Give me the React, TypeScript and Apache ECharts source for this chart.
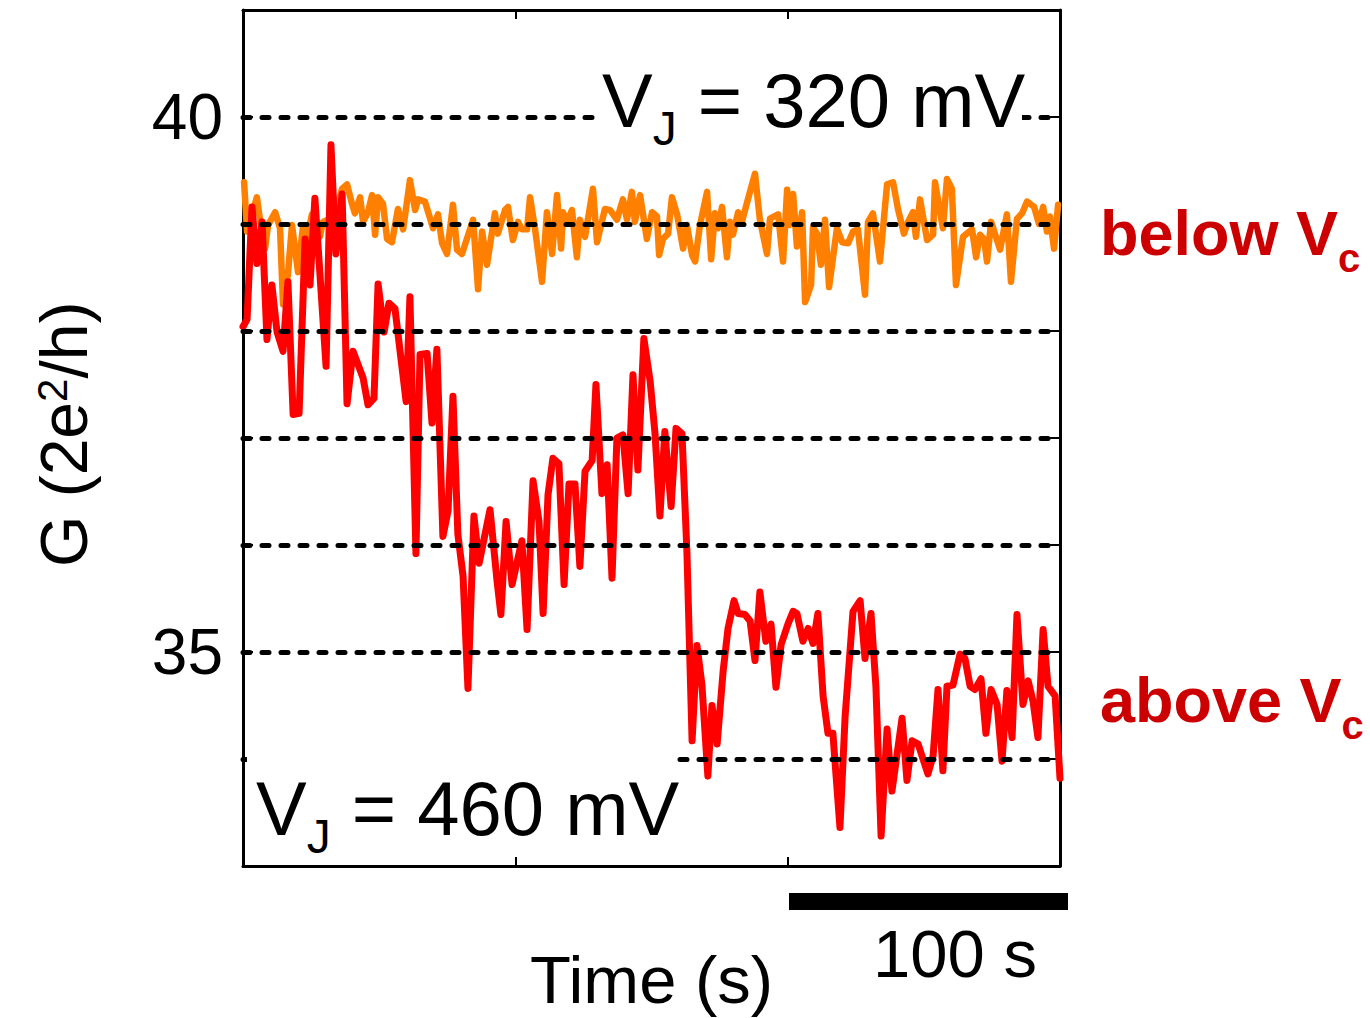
import React, { useEffect, useRef } from "react";
import * as echarts from "echarts";

// ---------- data ----------
const orangeTime = [0.4,1.5,5.1,6.2,8.1,9.2,11.8,13.6,14.7,16.5,18.0,20.2,22.0,23.5,25.3,28.2,29.4,31.9,34.5,36.4,38.2,40.0,41.1,43.0,44.1,45.9,47.4,48.5,49.6,51.4,52.9,54.7,56.9,58.8,61.3,63.2,64.3,66.8,69.8,71.6,73.1,74.9,77.1,78.6,80.4,84.5,86.3,87.8,89.6,92.5,93.6,96.2,97.3,99.1,101.0,102.4,104.3,105.4,107.2,109.8,111.6,113.5,115.3,116.8,117.5,119.0,120.8,122.6,123.7,125.6,128.5,130.0,132.9,134.8,137.3,139.5,141.0,142.8,143.9,145.8,148.3,150.2,152.0,152.8,154.2,156.1,157.5,159.4,161.6,163.0,164.9,166.0,167.8,170.4,171.9,173.3,174.4,175.9,177.7,178.8,179.9,181.8,183.2,185.4,188.0,189.8,192.4,193.5,196.5,198.3,199.8,200.5,202.0,203.4,205.3,206.4,208.6,209.3,210.8,212.2,213.7,215.2,218.1,220.0,222.2,224.0,225.8,228.4,229.5,231.3,233.9,236.5,238.7,240.5,242.7,244.2,246.0,247.1,248.6,251.2,253.4,254.1,257.0,258.5,260.3,261.8,264.4,267.7,269.2,270.6,272.1,273.2,274.7,278.0,280.5,282.0,284.2,286.1,287.9,290.5,292.3,293.8,295.2,296.3,297.8,299.3];
const orangeG = [39.39,38.93,39.25,39.05,38.77,38.99,39.11,38.96,38.25,38.53,38.99,38.55,38.97,38.86,39.09,38.88,39.02,39.05,39.16,39.33,39.37,39.19,39.10,39.25,39.02,39.11,39.27,38.90,39.25,39.19,38.86,38.83,39.14,38.95,39.41,39.13,39.23,39.21,38.96,39.09,38.82,38.72,39.18,38.76,38.72,39.04,38.39,38.93,38.62,39.10,38.91,39.13,39.16,38.85,39.02,38.95,38.95,39.25,38.96,38.46,39.11,38.72,39.27,38.77,39.11,39.02,39.13,38.69,39.04,38.88,39.33,38.83,39.14,39.13,39.04,39.23,39.04,39.30,39.02,39.27,38.86,39.11,39.07,38.71,38.86,38.91,39.25,39.09,38.77,38.99,38.71,38.65,38.99,39.30,38.67,39.10,38.96,39.16,38.69,39.02,38.90,39.11,39.02,39.23,39.47,39.04,38.72,39.05,39.09,38.65,39.32,38.99,39.28,38.79,39.11,38.27,38.43,38.97,38.91,38.62,39.04,38.41,38.96,38.83,38.82,38.93,38.95,38.34,39.02,39.10,38.65,39.37,39.39,39.14,38.91,39.02,39.11,38.88,39.23,38.85,38.90,39.39,38.96,39.42,39.33,38.43,38.88,38.95,38.69,38.90,38.86,38.65,39.02,38.76,39.09,38.46,39.05,39.10,39.21,39.16,39.00,39.16,38.93,39.07,38.77,39.18];

const redTime = [0,1.5,3.3,5.1,7.0,8.8,10.6,12.5,14.7,16.5,18.4,20.6,22.8,24.6,26.4,30.5,32.3,34.1,36.4,38.2,40.4,44.1,45.9,48.1,49.6,51.8,53.6,55.8,59.9,61.3,63.5,65.0,67.6,69.4,71.2,73.4,75.3,77.1,78.9,80.8,82.6,84.8,86.7,90.7,93.3,94.7,96.6,98.8,102.4,104.3,106.5,108.7,110.2,112.0,113.8,116.0,117.9,119.7,121.9,123.7,125.6,128.2,129.6,131.8,133.7,135.5,137.3,139.5,141.4,143.2,145.0,147.2,149.5,151.3,153.1,154.9,157.2,159.0,161.2,163.0,164.9,166.7,168.5,170.7,172.2,174.1,176.3,178.1,180.3,181.8,184.3,186.2,188.0,189.8,192.0,193.9,195.7,197.6,200.1,202.0,203.4,205.6,207.5,209.3,211.1,213.0,214.8,216.6,219.2,221.1,224.0,226.6,228.4,230.6,232.4,234.3,236.5,238.3,242.0,243.8,245.7,247.9,251.5,253.4,255.2,257.0,258.5,260.7,263.3,265.1,267.0,268.8,271.0,272.8,274.7,276.9,278.7,280.5,282.4,284.2,286.4,288.3,290.1,291.9,293.8,295.6,298.2,300.0];
const redG = [38.04,38.11,39.16,38.63,39.02,37.92,38.43,37.99,37.81,38.46,37.22,37.23,38.86,38.43,39.24,37.67,39.74,38.72,39.28,37.32,37.81,37.56,37.31,37.37,38.44,37.99,38.26,38.21,37.34,38.32,35.92,37.78,37.79,37.14,37.83,36.08,36.32,37.39,36.10,35.71,34.66,36.27,35.83,36.33,35.66,35.35,36.22,35.63,36.04,35.21,36.60,36.22,35.36,36.47,36.81,36.76,35.63,36.57,36.57,35.80,36.69,36.79,37.50,36.48,36.75,35.69,37.00,37.03,36.48,37.59,36.70,37.93,37.53,37.04,36.27,37.06,36.36,37.09,37.04,35.94,34.17,35.06,34.70,33.84,34.50,34.14,34.82,35.22,35.48,35.36,35.35,35.29,34.92,35.56,35.10,35.26,34.67,35.07,35.26,35.38,35.36,35.10,35.22,35.08,35.36,34.59,34.24,34.24,33.36,34.40,35.38,35.48,34.94,35.36,34.68,33.28,34.28,33.70,34.38,33.80,34.17,34.14,33.86,34.03,34.65,33.89,34.68,34.69,34.98,34.94,34.68,34.65,34.75,34.24,34.65,34.51,33.98,34.64,34.20,35.35,34.51,34.73,34.54,34.20,35.21,34.68,34.59,33.82];

const yTickLabels = [35, 40];
const gridLevels = [34, 35, 36, 37, 38, 39, 40];
const X_MIN = 0, X_MAX = 300, X_STEP = 100;
const Y_MIN = 33, Y_MAX = 41, Y_STEP = 1;

const FONT = "'Liberation Sans', Arial, Helvetica, sans-serif";
const DARK_RED = "#cc0000";

function zip(a: number[], b: number[]) {
  const n = Math.min(a.length, b.length);
  const out: number[][] = [];
  for (let i = 0; i < n; i++) out.push([a[i], b[i]]);
  return out;
}

export default function App() {
  const ref = useRef<HTMLDivElement>(null);

  useEffect(() => {
    if (!ref.current) return;
    const chart = echarts.init(ref.current, null, { renderer: "svg" });

    const ctx = document.createElement("canvas").getContext("2d")!;
    const tw = (text: string, size: number, weight = "normal") => {
      ctx.font = `${weight} ${size}px 'Liberation Sans'`;
      return ctx.measureText(text).width;
    };
    const txt = (
      text: string,
      x: number,
      baseline: number,
      size: number,
      fill = "#000",
      weight = "normal"
    ) => ({
      type: "text",
      x,
      y: baseline - 0.347 * size,
      z: 101,
      silent: true,
      style: {
        text,
        fill,
        fontSize: size,
        fontFamily: FONT,
        fontWeight: weight,
        align: "left",
        verticalAlign: "middle",
      },
    });

    const subLabel = (
      main: string,
      sub: string,
      rest: string,
      x: number,
      baseline: number,
      size: number,
      subSize: number,
      subDrop: number,
      fill = "#000",
      weight = "normal"
    ) => {
      const w1 = tw(main, size, weight);
      const w2 = tw(sub, subSize, weight);
      const els: any[] = [
        txt(main, x, baseline, size, fill, weight),
        txt(sub, x + w1, baseline + subDrop, subSize, fill, weight),
      ];
      if (rest) els.push(txt(rest, x + w1 + w2, baseline, size, fill, weight));
      return els;
    };

    // rotated y-axis title: G (2e^2/h)
    const yS = 66, ySup = 42;
    const p1 = "G (2e", p2 = "2", p3 = "/h)";
    const yw1 = tw(p1, yS), yw2 = tw(p2, ySup);
    const yLabelGroup = {
      type: "group",
      x: 87,
      y: 567,
      rotation: Math.PI / 2,
      z: 101,
      children: [
        txt(p1, 0, 0, yS),
        txt(p2, yw1, -20, ySup),
        txt(p3, yw1 + yw2, 0, yS),
      ],
    };

    const axisLineStyle = { color: "#000", width: 3 };
    const xAxisCommon = {
      type: "value",
      min: X_MIN,
      max: X_MAX,
      interval: X_STEP,
      axisLine: { show: true, onZero: false, lineStyle: axisLineStyle },
      axisTick: { show: true, inside: true, length: 9, lineStyle: { color: "#000", width: 2 } },
      axisLabel: { show: false },
      splitLine: { show: false },
    };
    const yAxisCommon = {
      type: "value",
      min: Y_MIN,
      max: Y_MAX,
      interval: Y_STEP,
      axisLine: { show: true, onZero: false, lineStyle: axisLineStyle },
      axisTick: { show: true, inside: true, length: 10, lineStyle: { color: "#000", width: 2 } },
      splitLine: { show: false },
    };

    chart.setOption({
      animation: false,
      backgroundColor: "#fff",
      grid: { left: 243, right: 310, top: 10, bottom: 152, containLabel: false },
      xAxis: [
        { ...xAxisCommon, position: "bottom" },
        { ...xAxisCommon, position: "top" },
      ],
      yAxis: [
        {
          ...yAxisCommon,
          position: "left",
          axisLabel: {
            show: true,
            margin: 20,
            fontSize: 64,
            fontFamily: FONT,
            color: "#000",
            formatter: (v: number) => (yTickLabels.includes(Math.round(v)) ? String(Math.round(v)) : ""),
          },
        },
        { ...yAxisCommon, position: "right", axisLabel: { show: false } },
      ],
      series: [
        {
          name: "below Vc",
          type: "line",
          data: zip(orangeTime, orangeG),
          showSymbol: false,
          symbol: "none",
          z: 2,
          lineStyle: { color: "#ff8000", width: 6.5, join: "round", cap: "round" },
        },
        {
          name: "above Vc",
          type: "line",
          data: zip(redTime, redG),
          showSymbol: false,
          symbol: "none",
          z: 3,
          lineStyle: { color: "#ff0000", width: 7, join: "round", cap: "round" },
        },
        {
          name: "levels",
          type: "line",
          data: [],
          z: 4,
          markLine: {
            silent: true,
            symbol: ["none", "none"],
            label: { show: false },
            animation: false,
            lineStyle: { color: "#000", width: 5, type: [7, 12], cap: "round" },
            data: gridLevels.map((v) => ({ yAxis: v })),
          },
        },
      ],
      graphic: [
        { type: "rect", z: 100, silent: true, shape: { x: 599, y: 62, width: 423, height: 88 }, style: { fill: "#fff" } },
        { type: "rect", z: 100, silent: true, shape: { x: 247, y: 750, width: 429, height: 105 }, style: { fill: "#fff" } },
        ...subLabel("V", "J", " = 320 mV", 602, 127, 76, 48, 18),
        ...subLabel("V", "J", " = 460 mV", 256, 835, 76, 48, 18),
        ...subLabel("below V", "c", "", 1100, 255, 63, 40, 17, DARK_RED, "bold"),
        ...subLabel("above V", "c", "", 1100, 722, 63, 40, 17, DARK_RED, "bold"),
        yLabelGroup,
        { type: "rect", z: 100, silent: true, shape: { x: 789, y: 893, width: 279, height: 17 }, style: { fill: "#000" } },
        txt("100 s", 873, 977, 67),
        txt("Time (s)", 530, 1003, 67),
      ],
    });

    return () => chart.dispose();
  }, []);

  return (
    <div
      ref={ref}
      style={{ position: "absolute", left: 0, top: 0, width: 1370, height: 1018, background: "#fff" }}
    />
  );
}
